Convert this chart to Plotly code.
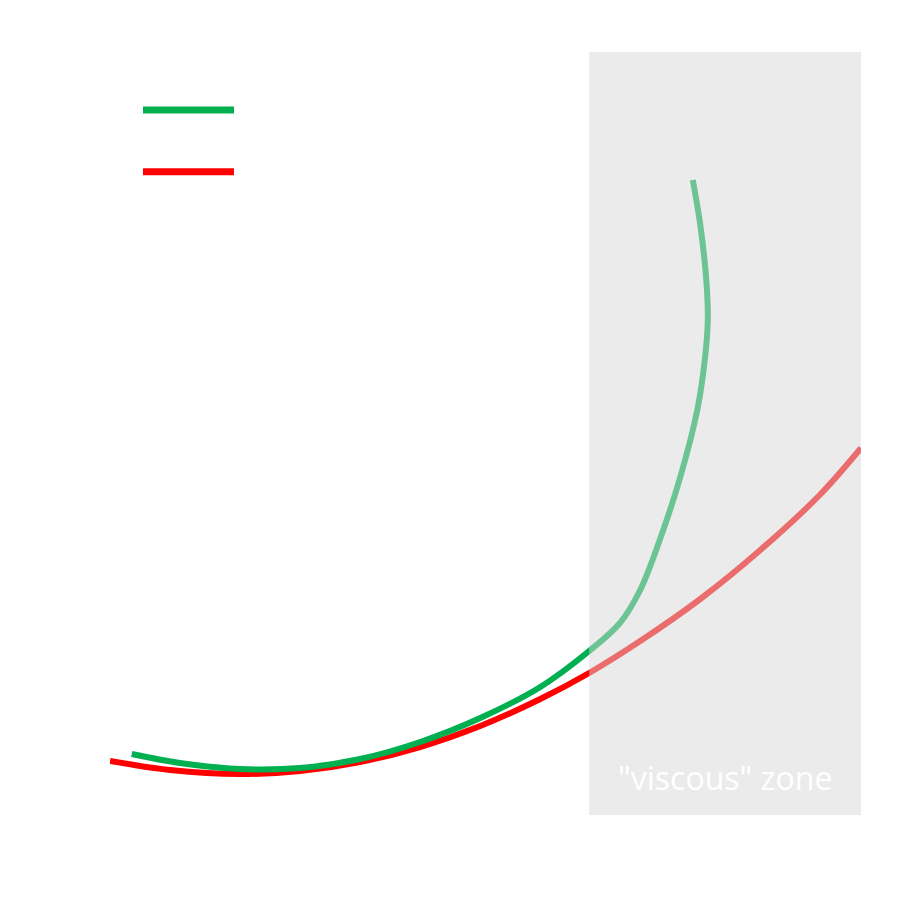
import plotly.graph_objects as go

# Data (arbitrary units)
red_x = [0, 8.0, 17.3, 25.3, 33.3, 41.3, 49.3, 57.3, 63.8, 70.6, 78.6, 86.6, 94.5, 100]
red_y = [7.08, 5.90, 5.37, 5.77, 6.95, 8.91, 11.66, 15.20, 18.61, 22.80, 28.31, 34.73, 41.94, 48.10]

green_x = [2.9, 9.3, 17.3, 25.3, 33.3, 41.3, 49.3, 57.3, 63.8, 67.9, 70.6, 73.2, 75.9, 78.2, 79.2, 79.6, 79.4, 78.6, 77.6]
green_y = [7.99, 6.82, 6.03, 6.16, 7.34, 9.57, 12.71, 16.78, 21.49, 25.16, 29.49, 36.04, 44.17, 53.08, 59.63, 64.88, 70.12, 77.33, 83.22]

series_names = ["Measured behaviour", "Model"]
zone_start = 63.8
zone_end = 100
zone_label = '"viscous" zone'

GREEN = "#00B050"
RED = "#FF0000"

fig = go.Figure()
fig.add_trace(go.Scatter(x=red_x, y=red_y, mode="lines", name=series_names[1],
                         line=dict(color=RED, width=6, shape="spline", smoothing=1.0),
                         showlegend=False, hoverinfo="skip"))
fig.add_trace(go.Scatter(x=green_x, y=green_y, mode="lines", name=series_names[0],
                         line=dict(color=GREEN, width=6, shape="spline", smoothing=1.0),
                         showlegend=False, hoverinfo="skip"))

# shaded zone drawn over the lines to tint them
fig.add_shape(type="rect", xref="x", yref="paper", x0=zone_start, x1=zone_end, y0=0, y1=1,
              fillcolor="rgb(215,215,215)", opacity=0.5, line=dict(width=0), layer="above")

fig.add_annotation(x=(zone_start + zone_end) / 2, xref="x", y=0.0485, yref="paper",
                   yanchor="middle", text=zone_label, showarrow=False,
                   font=dict(family="Open Sans", size=32, color="white"))

# custom legend
legend_rows = [(0.924, GREEN, series_names[0]), (0.843, RED, series_names[1])]
for yy, col, name in legend_rows:
    fig.add_shape(type="line", xref="paper", yref="paper",
                  x0=(143 - 110) / 751, x1=(234 - 110) / 751, y0=yy, y1=yy,
                  line=dict(color=col, width=7), layer="above")
    fig.add_annotation(xref="paper", yref="paper", x=(262 - 110) / 751, y=yy,
                       xanchor="left", yanchor="middle", text=name, showarrow=False,
                       font=dict(family="Open Sans", size=26, color="#FFFFFF"))

fig.update_layout(
    width=909, height=900,
    margin=dict(l=102, r=56, t=44, b=93),
    plot_bgcolor="white", paper_bgcolor="white",
    xaxis=dict(range=[0, 100], visible=False, fixedrange=True),
    yaxis=dict(range=[0, 100], visible=False, fixedrange=True),
)

fig.write_html("out.html")
